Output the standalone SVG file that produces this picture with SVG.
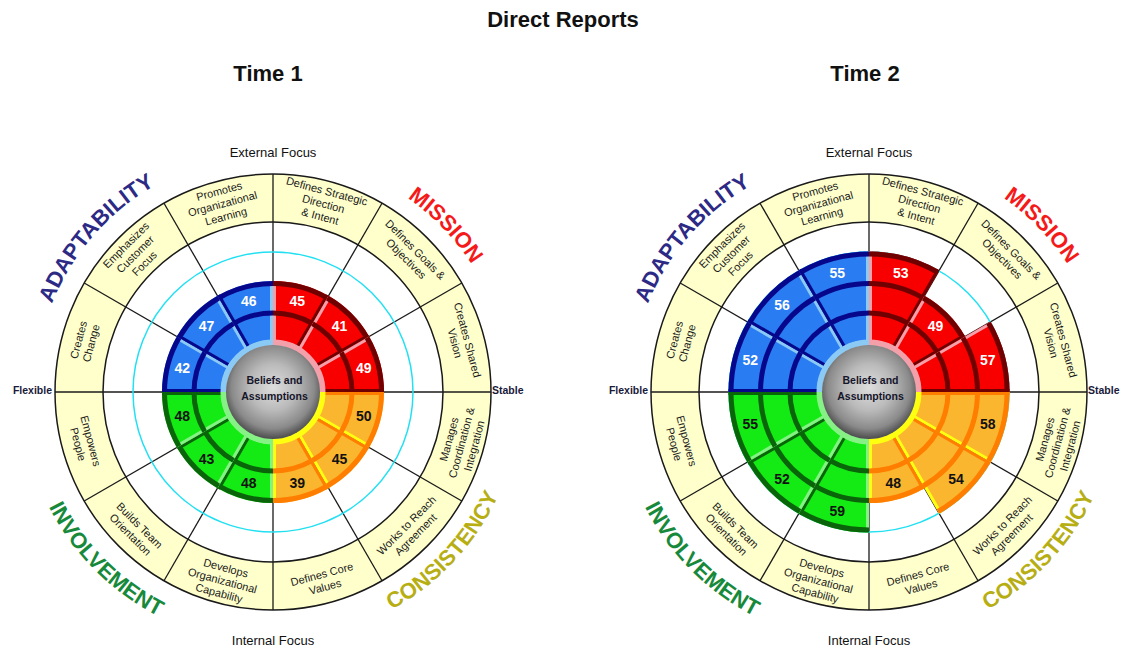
<svg xmlns="http://www.w3.org/2000/svg" width="1129" height="650" viewBox="0 0 1129 650">
<style>
text{font-family:"Liberation Sans",Arial,sans-serif}
.ttl{font-size:22px;font-weight:bold;fill:#111;text-anchor:middle}
.lab{font-size:11px;fill:#1a1a1a;text-anchor:middle}
.foc{font-size:13px;fill:#111;text-anchor:middle}
.ax{font-size:10.5px;font-weight:bold;fill:#1a1a3a}
.big{font-size:22px;font-weight:bold}
.num{font-size:14px;text-anchor:middle;font-weight:bold}
.nw{fill:#fff}
.nk{fill:#111}
.bel{font-size:10.5px;font-weight:bold;fill:#15152a;text-anchor:middle}
.fB{fill:#2a7cf2}.fR{fill:#f80000}.fO{fill:#fbb630}.fG{fill:#14ea14}
.e{fill:none;stroke-width:3}
.a{fill:none;stroke-width:5}
.q{fill:none;stroke-width:6}
.dB{stroke:#07078c}.lB{stroke:#8ccaf6}
.dR{stroke:#700000}.lR{stroke:#f4a0aa}
.dO{stroke:#ff7e00}.lO{stroke:#ffff10}
.dG{stroke:#0a640a}.lG{stroke:#86f286}
.ln{fill:none;stroke:#1a1a1a;stroke-width:1.3}
</style>
<defs>
<radialGradient id="sph" cx="0.5" cy="0.45" r="0.55">
<stop offset="0" stop-color="#dedede"/>
<stop offset="0.45" stop-color="#bababa"/>
<stop offset="0.8" stop-color="#8a8a8a"/>
<stop offset="1" stop-color="#4c4c4c"/>
</radialGradient>
<path id="s2" d="M0,-52V-111A111,111 0 0 1 55.5,-96.13L26,-45.03A52,52 0 0 0 0,-52Z"/>
<path id="s3" d="M0,-52V-140.5A140.5,140.5 0 0 1 70.25,-121.68L26,-45.03A52,52 0 0 0 0,-52Z"/>
<path id="e2" d="M1.5,-52V-111"/>
<path id="e3" d="M1.5,-52V-140.5"/>
<path id="a1" d="M0,-79A79,79 0 0 1 39.5,-68.42"/>
<path id="a2" d="M0,-108.5A108.5,108.5 0 0 1 54.25,-93.96"/>
<path id="a3" d="M0,-138A138,138 0 0 1 69,-119.51"/>
<path id="qr" d="M0,-49.5A49.5,49.5 0 0 1 49.5,0"/>
<path id="dl" d="M0,-218V218"/>
<path id="pA" d="M-233.6,-45.4A238,238 0 0 1 -77.5,-225"/>
<path id="pM" d="M65,-226.9A236,236 0 0 1 229,-57.1"/>
<path id="pI" d="M-243.4,65.2A252,252 0 0 0 -65.2,243.4"/>
<path id="pC" d="M72.5,237.2A248,248 0 0 0 241.6,55.8"/>
<g id="frame">
<circle r="218" fill="#ffffcc" stroke="#1a1a1a" stroke-width="1.5"/>
<circle r="170" fill="#fff" stroke="#1a1a1a" stroke-width="1.5"/>
<use href="#dl" class="ln"/>
<use href="#dl" class="ln" transform="rotate(30)"/>
<use href="#dl" class="ln" transform="rotate(60)"/>
<use href="#dl" class="ln" transform="rotate(90)"/>
<use href="#dl" class="ln" transform="rotate(120)"/>
<use href="#dl" class="ln" transform="rotate(150)"/>
<circle r="140" fill="none" stroke="#22e0f2" stroke-width="1.5"/>
</g>
<g id="core">
<use href="#qr" class="q lR"/>
<use href="#qr" class="q lO" transform="rotate(90)"/>
<use href="#qr" class="q lG" transform="rotate(180)"/>
<use href="#qr" class="q lB" transform="rotate(270)"/>
<circle r="47" fill="url(#sph)"/>
</g>
</defs>

<text class="ttl" x="563" y="27">Direct Reports</text>
<text class="ttl" x="268" y="81">Time 1</text>
<text class="ttl" x="865" y="81">Time 2</text>

<!-- CHART 1 -->
<g id="chart1" transform="translate(273,392)">
<use href="#frame"/>
<g id="data1">
<g transform="rotate(0)"><use href="#s2" class="fR"/><use href="#e2" class="e lR"/><use href="#e2" class="e dR" transform="rotate(30) scale(-1,1)"/><use href="#a1" class="a dR"/><use href="#a2" class="a dR"/></g>
<g transform="rotate(30)"><use href="#s2" class="fR"/><use href="#e2" class="e lR"/><use href="#e2" class="e dR" transform="rotate(30) scale(-1,1)"/><use href="#a1" class="a dR"/><use href="#a2" class="a dR"/></g>
<g transform="rotate(60)"><use href="#s2" class="fR"/><use href="#e2" class="e lR"/><use href="#e2" class="e dR" transform="rotate(30) scale(-1,1)"/><use href="#a1" class="a dR"/><use href="#a2" class="a dR"/></g>
<g transform="rotate(90)"><use href="#s2" class="fO"/><use href="#e2" class="e dO"/><use href="#e2" class="e lO" transform="rotate(30) scale(-1,1)"/><use href="#a1" class="a dO"/><use href="#a2" class="a dO"/></g>
<g transform="rotate(120)"><use href="#s2" class="fO"/><use href="#e2" class="e dO"/><use href="#e2" class="e lO" transform="rotate(30) scale(-1,1)"/><use href="#a1" class="a dO"/><use href="#a2" class="a dO"/></g>
<g transform="rotate(150)"><use href="#s2" class="fO"/><use href="#e2" class="e dO"/><use href="#e2" class="e lO" transform="rotate(30) scale(-1,1)"/><use href="#a1" class="a dO"/><use href="#a2" class="a dO"/></g>
<g transform="rotate(180)"><use href="#s2" class="fG"/><use href="#e2" class="e lG"/><use href="#e2" class="e dG" transform="rotate(30) scale(-1,1)"/><use href="#a1" class="a dG"/><use href="#a2" class="a dG"/></g>
<g transform="rotate(210)"><use href="#s2" class="fG"/><use href="#e2" class="e lG"/><use href="#e2" class="e dG" transform="rotate(30) scale(-1,1)"/><use href="#a1" class="a dG"/><use href="#a2" class="a dG"/></g>
<g transform="rotate(240)"><use href="#s2" class="fG"/><use href="#e2" class="e lG"/><use href="#e2" class="e dG" transform="rotate(30) scale(-1,1)"/><use href="#a1" class="a dG"/><use href="#a2" class="a dG"/></g>
<g transform="rotate(270)"><use href="#s2" class="fB"/><use href="#e2" class="e dB"/><use href="#e2" class="e lB" transform="rotate(30) scale(-1,1)"/><use href="#a1" class="a dB"/><use href="#a2" class="a dB"/></g>
<g transform="rotate(300)"><use href="#s2" class="fB"/><use href="#e2" class="e dB"/><use href="#e2" class="e lB" transform="rotate(30) scale(-1,1)"/><use href="#a1" class="a dB"/><use href="#a2" class="a dB"/></g>
<g transform="rotate(330)"><use href="#s2" class="fB"/><use href="#e2" class="e dB"/><use href="#e2" class="e lB" transform="rotate(30) scale(-1,1)"/><use href="#a1" class="a dB"/><use href="#a2" class="a dB"/></g>
</g>
<use href="#core"/>
<text class="bel" x="1.5" y="-8">Beliefs and</text>
<text class="bel" x="1.5" y="7.5">Assumptions</text>
<g id="nums1">
<text class="num nw" x="24.3" y="-85.8">45</text>
<text class="num nw" x="66.5" y="-61.5">41</text>
<text class="num nw" x="90.8" y="-19.3">49</text>
<text class="num nk" x="90.8" y="29.3">50</text>
<text class="num nk" x="66.5" y="71.5">45</text>
<text class="num nk" x="24.3" y="95.8">39</text>
<text class="num nk" x="-24.3" y="95.8">48</text>
<text class="num nk" x="-66.5" y="71.5">43</text>
<text class="num nk" x="-90.8" y="29.3">48</text>
<text class="num nw" x="-90.8" y="-19.3">42</text>
<text class="num nw" x="-66.5" y="-61.5">47</text>
<text class="num nw" x="-24.3" y="-85.8">46</text>
</g>
<g id="labels1">
<text class="lab" transform="translate(50.5,-188.4) rotate(15)"><tspan x="0" y="-9">Defines Strategic</tspan><tspan x="0" y="4">Direction</tspan><tspan x="0" y="17">&amp; Intent</tspan></text>
<text class="lab" transform="translate(137.9,-137.9) rotate(45)"><tspan x="0" y="-2.5">Defines Goals &amp;</tspan><tspan x="0" y="10.5">Objectives</tspan></text>
<text class="lab" transform="translate(188.4,-50.5) rotate(75)"><tspan x="0" y="-2.5">Creates Shared</tspan><tspan x="0" y="10.5">Vision</tspan></text>
<text class="lab" transform="translate(188.4,50.5) rotate(-75)"><tspan x="0" y="-9">Manages</tspan><tspan x="0" y="4">Coordination &amp;</tspan><tspan x="0" y="17">Integration</tspan></text>
<text class="lab" transform="translate(137.9,137.9) rotate(-45)"><tspan x="0" y="-2.5">Works to Reach</tspan><tspan x="0" y="10.5">Agreement</tspan></text>
<text class="lab" transform="translate(50.5,188.4) rotate(-15)"><tspan x="0" y="-2.5">Defines Core</tspan><tspan x="0" y="10.5">Values</tspan></text>
<text class="lab" transform="translate(-50.5,188.4) rotate(15)"><tspan x="0" y="-9">Develops</tspan><tspan x="0" y="4">Organizational</tspan><tspan x="0" y="17">Capability</tspan></text>
<text class="lab" transform="translate(-137.9,137.9) rotate(45)"><tspan x="0" y="-2.5">Builds Team</tspan><tspan x="0" y="10.5">Orientation</tspan></text>
<text class="lab" transform="translate(-188.4,50.5) rotate(75)"><tspan x="0" y="-2.5">Empowers</tspan><tspan x="0" y="10.5">People</tspan></text>
<text class="lab" transform="translate(-188.4,-50.5) rotate(-75)"><tspan x="0" y="-2.5">Creates</tspan><tspan x="0" y="10.5">Change</tspan></text>
<text class="lab" transform="translate(-137.9,-137.9) rotate(-45)"><tspan x="0" y="-9">Emphasizes</tspan><tspan x="0" y="4">Customer</tspan><tspan x="0" y="17">Focus</tspan></text>
<text class="lab" transform="translate(-50.5,-188.4) rotate(-15)"><tspan x="0" y="-9">Promotes</tspan><tspan x="0" y="4">Organizational</tspan><tspan x="0" y="17">Learning</tspan></text>
</g>
<text class="big" fill="#2d2a85"><textPath href="#pA" startOffset="50%" text-anchor="middle">ADAPTABILITY</textPath></text>
<text class="big" fill="#f51a1a"><textPath href="#pM" startOffset="50%" text-anchor="middle">MISSION</textPath></text>
<text class="big" fill="#17893a"><textPath href="#pI" startOffset="50%" text-anchor="middle">INVOLVEMENT</textPath></text>
<text class="big" fill="#b7ae14"><textPath href="#pC" startOffset="50%" text-anchor="middle">CONSISTENCY</textPath></text>
<text class="foc" x="0" y="-235.5">External Focus</text>
<text class="foc" x="0" y="252.5">Internal Focus</text>
<text class="ax" x="-221" y="2" text-anchor="end">Flexible</text>
<text class="ax" x="219" y="2">Stable</text>
</g>

<!-- CHART 2 -->
<g id="chart2" transform="translate(869,392)">
<use href="#frame"/>
<g id="data2">
<g transform="rotate(0)"><use href="#s3" class="fR"/><use href="#e3" class="e lR"/><use href="#e3" class="e dR" transform="rotate(30) scale(-1,1)"/><use href="#a1" class="a dR"/><use href="#a2" class="a dR"/><use href="#a3" class="a dR"/></g>
<g transform="rotate(30)"><use href="#s2" class="fR"/><use href="#e2" class="e lR"/><use href="#e2" class="e dR" transform="rotate(30) scale(-1,1)"/><use href="#a1" class="a dR"/><use href="#a2" class="a dR"/></g>
<g transform="rotate(60)"><use href="#s3" class="fR"/><use href="#e3" class="e lR"/><use href="#e3" class="e dR" transform="rotate(30) scale(-1,1)"/><use href="#a1" class="a dR"/><use href="#a2" class="a dR"/><use href="#a3" class="a dR"/></g>
<g transform="rotate(90)"><use href="#s3" class="fO"/><use href="#e3" class="e dO"/><use href="#e3" class="e lO" transform="rotate(30) scale(-1,1)"/><use href="#a1" class="a dO"/><use href="#a2" class="a dO"/><use href="#a3" class="a dO"/></g>
<g transform="rotate(120)"><use href="#s3" class="fO"/><use href="#e3" class="e dO"/><use href="#e3" class="e lO" transform="rotate(30) scale(-1,1)"/><use href="#a1" class="a dO"/><use href="#a2" class="a dO"/><use href="#a3" class="a dO"/></g>
<g transform="rotate(150)"><use href="#s2" class="fO"/><use href="#e2" class="e dO"/><use href="#e2" class="e lO" transform="rotate(30) scale(-1,1)"/><use href="#a1" class="a dO"/><use href="#a2" class="a dO"/></g>
<g transform="rotate(180)"><use href="#s3" class="fG"/><use href="#e3" class="e lG"/><use href="#e3" class="e dG" transform="rotate(30) scale(-1,1)"/><use href="#a1" class="a dG"/><use href="#a2" class="a dG"/><use href="#a3" class="a dG"/></g>
<g transform="rotate(210)"><use href="#s3" class="fG"/><use href="#e3" class="e lG"/><use href="#e3" class="e dG" transform="rotate(30) scale(-1,1)"/><use href="#a1" class="a dG"/><use href="#a2" class="a dG"/><use href="#a3" class="a dG"/></g>
<g transform="rotate(240)"><use href="#s3" class="fG"/><use href="#e3" class="e lG"/><use href="#e3" class="e dG" transform="rotate(30) scale(-1,1)"/><use href="#a1" class="a dG"/><use href="#a2" class="a dG"/><use href="#a3" class="a dG"/></g>
<g transform="rotate(270)"><use href="#s3" class="fB"/><use href="#e3" class="e dB"/><use href="#e3" class="e lB" transform="rotate(30) scale(-1,1)"/><use href="#a1" class="a dB"/><use href="#a2" class="a dB"/><use href="#a3" class="a dB"/></g>
<g transform="rotate(300)"><use href="#s3" class="fB"/><use href="#e3" class="e dB"/><use href="#e3" class="e lB" transform="rotate(30) scale(-1,1)"/><use href="#a1" class="a dB"/><use href="#a2" class="a dB"/><use href="#a3" class="a dB"/></g>
<g transform="rotate(330)"><use href="#s3" class="fB"/><use href="#e3" class="e dB"/><use href="#e3" class="e lB" transform="rotate(30) scale(-1,1)"/><use href="#a1" class="a dB"/><use href="#a2" class="a dB"/><use href="#a3" class="a dB"/></g>
</g>
<use href="#core"/>
<text class="bel" x="1.5" y="-8">Beliefs and</text>
<text class="bel" x="1.5" y="7.5">Assumptions</text>
<g id="nums2">
<text class="num nw" x="31.8" y="-113.8">53</text>
<text class="num nw" x="66.5" y="-61.5">49</text>
<text class="num nw" x="118.8" y="-26.8">57</text>
<text class="num nk" x="118.8" y="36.8">58</text>
<text class="num nk" x="87" y="92">54</text>
<text class="num nk" x="24.3" y="95.8">48</text>
<text class="num nk" x="-31.8" y="123.8">59</text>
<text class="num nk" x="-87" y="92">52</text>
<text class="num nk" x="-118.8" y="36.8">55</text>
<text class="num nw" x="-118.8" y="-26.8">52</text>
<text class="num nw" x="-87" y="-82">56</text>
<text class="num nw" x="-31.8" y="-113.8">55</text>
</g>
<g id="labels2">
<text class="lab" transform="translate(50.5,-188.4) rotate(15)"><tspan x="0" y="-9">Defines Strategic</tspan><tspan x="0" y="4">Direction</tspan><tspan x="0" y="17">&amp; Intent</tspan></text>
<text class="lab" transform="translate(137.9,-137.9) rotate(45)"><tspan x="0" y="-2.5">Defines Goals &amp;</tspan><tspan x="0" y="10.5">Objectives</tspan></text>
<text class="lab" transform="translate(188.4,-50.5) rotate(75)"><tspan x="0" y="-2.5">Creates Shared</tspan><tspan x="0" y="10.5">Vision</tspan></text>
<text class="lab" transform="translate(188.4,50.5) rotate(-75)"><tspan x="0" y="-9">Manages</tspan><tspan x="0" y="4">Coordination &amp;</tspan><tspan x="0" y="17">Integration</tspan></text>
<text class="lab" transform="translate(137.9,137.9) rotate(-45)"><tspan x="0" y="-2.5">Works to Reach</tspan><tspan x="0" y="10.5">Agreement</tspan></text>
<text class="lab" transform="translate(50.5,188.4) rotate(-15)"><tspan x="0" y="-2.5">Defines Core</tspan><tspan x="0" y="10.5">Values</tspan></text>
<text class="lab" transform="translate(-50.5,188.4) rotate(15)"><tspan x="0" y="-9">Develops</tspan><tspan x="0" y="4">Organizational</tspan><tspan x="0" y="17">Capability</tspan></text>
<text class="lab" transform="translate(-137.9,137.9) rotate(45)"><tspan x="0" y="-2.5">Builds Team</tspan><tspan x="0" y="10.5">Orientation</tspan></text>
<text class="lab" transform="translate(-188.4,50.5) rotate(75)"><tspan x="0" y="-2.5">Empowers</tspan><tspan x="0" y="10.5">People</tspan></text>
<text class="lab" transform="translate(-188.4,-50.5) rotate(-75)"><tspan x="0" y="-2.5">Creates</tspan><tspan x="0" y="10.5">Change</tspan></text>
<text class="lab" transform="translate(-137.9,-137.9) rotate(-45)"><tspan x="0" y="-9">Emphasizes</tspan><tspan x="0" y="4">Customer</tspan><tspan x="0" y="17">Focus</tspan></text>
<text class="lab" transform="translate(-50.5,-188.4) rotate(-15)"><tspan x="0" y="-9">Promotes</tspan><tspan x="0" y="4">Organizational</tspan><tspan x="0" y="17">Learning</tspan></text>
</g>
<text class="big" fill="#2d2a85"><textPath href="#pA" startOffset="50%" text-anchor="middle">ADAPTABILITY</textPath></text>
<text class="big" fill="#f51a1a"><textPath href="#pM" startOffset="50%" text-anchor="middle">MISSION</textPath></text>
<text class="big" fill="#17893a"><textPath href="#pI" startOffset="50%" text-anchor="middle">INVOLVEMENT</textPath></text>
<text class="big" fill="#b7ae14"><textPath href="#pC" startOffset="50%" text-anchor="middle">CONSISTENCY</textPath></text>
<text class="foc" x="0" y="-235.5">External Focus</text>
<text class="foc" x="0" y="252.5">Internal Focus</text>
<text class="ax" x="-221" y="2" text-anchor="end">Flexible</text>
<text class="ax" x="219" y="2">Stable</text>
</g>
</svg>
